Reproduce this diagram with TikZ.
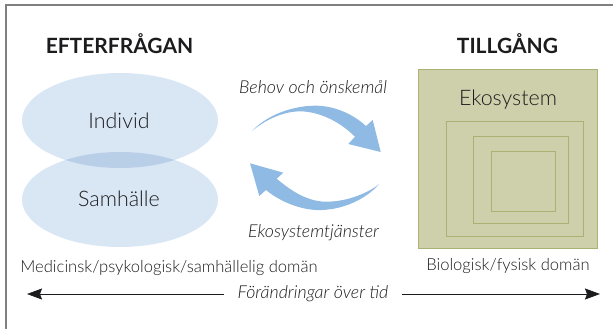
\documentclass[tikz,border=0pt]{standalone}
\usepackage{fontspec}
\setmainfont{Lato}
\newfontfamily\lightfont{Lato Light}[ItalicFont={Lato Light Italic}]
\usetikzlibrary{arrows.meta}
\definecolor{txt}{HTML}{1C1C1E}
\definecolor{ell}{HTML}{D9E6F4}
\definecolor{ellov}{HTML}{B9CFE8}
\definecolor{arrowblue}{HTML}{8FBAE3}
\definecolor{boxfill}{HTML}{CECFAB}
\definecolor{boxline}{HTML}{A9B272}
\definecolor{framegray}{HTML}{808080}
\tikzset{
  headingtext/.style={font=\bfseries\fontsize{21}{24}\selectfont,text=txt,inner sep=0pt},
  labeltext/.style={font=\lightfont\fontsize{21.4}{24}\selectfont,text=txt,inner sep=0pt},
  domaintext/.style={font=\lightfont\fontsize{16.6}{19}\selectfont,text=txt,inner sep=0pt},
  flowtext/.style={font=\lightfont\itshape\fontsize{17.8}{20}\selectfont,text=txt,inner sep=0pt},
  nested/.style={draw=boxline,line width=1pt},
  timeline/.style={draw=txt,line width=0.7pt,-{Stealth[length=15pt,width=11pt,inset=2pt]}},
}
\begin{document}
\begin{tikzpicture}[x=1pt,y=-1pt]
\useasboundingbox (0,0) rectangle (613,329);
\draw[framegray,line width=1.1pt] (6,329) -- (6,5) -- (613,5);
% ellipses
\fill[ell] (120,120.5) ellipse [x radius=98,y radius=47.5];
\fill[ell] (120,199.5) ellipse [x radius=98,y radius=47.5];
\begin{scope}
  \clip (120,120.5) ellipse [x radius=98,y radius=47.5];
  \fill[ellov] (120,199.5) ellipse [x radius=98,y radius=47.5];
\end{scope}
% boxes
\draw[nested,fill=boxfill] (418.3,69.3) rectangle (597.7,248);
\draw[nested] (446.7,121) rectangle (583.5,236.5);
\draw[nested] (473,136) rectangle (568,223.5);
\draw[nested] (491,151) rectangle (555.5,211);
% curved arrows
\fill[arrowblue] (252,131) .. controls (270,112) and (300,104) .. (322,106)
  .. controls (340,108) and (355,116) .. (366,126) -- (372.7,120) -- (380.7,152) -- (348.3,144)
  -- (355,136.7) .. controls (340,122) and (322,113) .. (304,111.5)
  .. controls (285,110) and (265,120) .. (252,131) -- cycle;
\fill[arrowblue] (379,184.3) .. controls (366,199) and (342,211) .. (316,210)
  .. controls (297,209) and (278,200) .. (266,190) -- (259.3,196) -- (250,163.3) -- (283.3,172.7)
  -- (276.7,178.7) .. controls (290,190) and (305,200) .. (322,201.5)
  .. controls (342,203) and (365,195) .. (379,184.3) -- cycle;
% text
\node[headingtext] (efter) at (119.5,44) {EFTERFRÅGAN};
\node[headingtext] (till) at (507.5,44) {TILLGÅNG};
\node[labeltext] (individ) at (119,120.5) {Individ};
\node[labeltext] (samhalle) at (119,198.5) {Samhälle};
\node[labeltext] (eko) at (508,99.5) {Ekosystem};
\node[flowtext] (behov) at (313,87) {Behov och önskemål};
\node[flowtext] (tjanst) at (313.5,233) {Ekosystemtjänster};
\node[domaintext] (med) at (169,267.5) {Medicinsk/psykologisk/samhällelig domän};
\node[domaintext] (bio) at (508,265.5) {Biologisk/fysisk domän};
\node[flowtext] (tid) at (313,294) {Förändringar över tid};
\coordinate (lend) at (27,294);
\coordinate (rend) at (600,294);
\draw[timeline] (224,294) -- (lend);
\draw[timeline] (402,294) -- (rend);
\end{tikzpicture}
\end{document}
